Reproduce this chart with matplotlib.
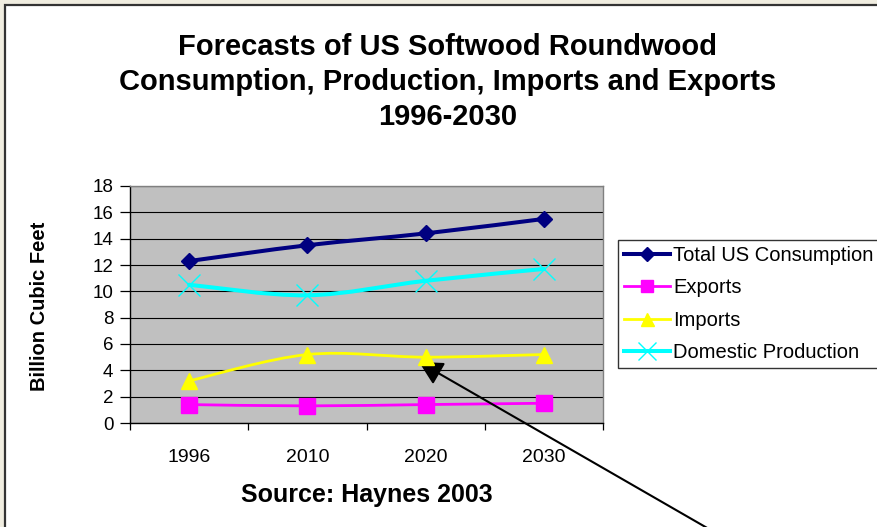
import numpy as np
import matplotlib
matplotlib.use("Agg")
import matplotlib.pyplot as plt
from matplotlib.path import Path
from matplotlib.patches import PathPatch, Rectangle
from matplotlib.lines import Line2D

plt.rcParams['font.family'] = ['Liberation Sans', 'DejaVu Sans']

# ---- data (billion cubic feet) ----
years = ['1996', '2010', '2020', '2030']
total_consumption = [12.3, 13.5, 14.4, 15.5]
exports = [1.4, 1.3, 1.4, 1.5]
imports = [3.2, 5.2, 5.0, 5.2]
domestic_production = [10.5, 9.7, 10.8, 11.7]

y_ticks = [0, 2, 4, 6, 8, 10, 12, 14, 16, 18]

series = [
    ("Total US Consumption", total_consumption, "#000080", "D", 8.5, 2.9, 1.0),
    ("Exports", exports, "#FF00FF", "s", 11.5, 2.0, 1.0),
    ("Imports", imports, "#FFFF00", "^", 12.0, 2.0, 1.0),
    ("Domestic Production", domestic_production, "#00FFFF", "x", 16.5, 2.9, 1.0),
]

W, H = 877, 527
fig = plt.figure(figsize=(W / 100, H / 100), dpi=100)
fig.patch.set_facecolor("#F0EDE0")

# white chart panel with dark frame
fig.patches.append(Rectangle((5 / W, -0.05), 1.0, 1 - 5 / H + 0.05,
                             transform=fig.transFigure, facecolor="white",
                             edgecolor="#333333", linewidth=1.6, zorder=-5))


def smooth_path(xs, ys):
    """Bezier path through the points (Catmull-Rom style tangents)."""
    pts = np.column_stack([xs, ys]).astype(float)
    n = len(pts)
    verts = [pts[0]]
    codes = [Path.MOVETO]
    for i in range(n - 1):
        p0 = pts[max(i - 1, 0)]
        p1 = pts[i]
        p2 = pts[i + 1]
        p3 = pts[min(i + 2, n - 1)]
        c1 = p1 + (p2 - p0) / 6.0
        c2 = p2 - (p3 - p1) / 6.0
        verts += [c1, c2, p2]
        codes += [Path.CURVE4] * 3
    return Path(verts, codes)


ax = fig.add_axes([130 / W, 1 - 423 / H, 473 / W, 237 / H])
ax.set_zorder(1)
ax.set_facecolor("#C0C0C0")
x = np.arange(len(years))

handles = []
for name, vals, color, marker, ms, lw, mew in series:
    ax.add_patch(PathPatch(smooth_path(x, vals), fill=False, edgecolor=color,
                           linewidth=lw, transform=ax.transData, zorder=3,
                           capstyle='round', joinstyle='round'))
    ax.plot(x, vals, linestyle='none', marker=marker, markersize=ms,
            color=color, markeredgecolor=color, markeredgewidth=mew, zorder=5)
    handles.append(Line2D([], [], color=color, linewidth=lw, marker=marker,
                          markersize=ms * 0.78, markeredgecolor=color,
                          markeredgewidth=mew))

ax.set_xlim(-0.5, len(years) - 0.5)
ax.set_ylim(0, 18)
ax.set_yticks(y_ticks)
ax.set_yticklabels([str(v) for v in y_ticks])
ax.yaxis.grid(True, color="black", linewidth=0.8, zorder=1)
ax.set_axisbelow(True)

# category boundaries carry the tick marks, centres carry the labels
ax.set_xticks(np.arange(-0.5, len(years)), minor=False)
ax.set_xticklabels([''] * (len(years) + 1))
ax.set_xticks(x, minor=True)
ax.set_xticklabels(years, minor=True)
ax.tick_params(axis='x', which='major', direction='out', length=5.2, width=0.9)
ax.tick_params(axis='x', which='minor', length=0, pad=18.5, labelsize=14)
ax.tick_params(axis='y', direction='out', length=7.5, width=0.9, pad=4.5,
               labelsize=13.5)

for side in ('left', 'bottom'):
    ax.spines[side].set_color('black')
    ax.spines[side].set_linewidth(1.0)
for side in ('top', 'right'):
    ax.spines[side].set_color('#808080')
    ax.spines[side].set_linewidth(1.0)

fig.text(40 / W, 1 - 306 / H, "Billion Cubic Feet", rotation=90,
         ha='center', va='center', fontsize=14.5, fontweight='bold')

fig.text(448 / W, 1 - 82 / H,
         "Forecasts of US Softwood Roundwood\n"
         "Consumption, Production, Imports and Exports\n"
         "1996-2030",
         ha='center', va='center', fontsize=21, fontweight='bold',
         linespacing=1.33)

fig.text(367 / W, 1 - 495 / H, "Source: Haynes 2003", ha='center',
         va='center', fontsize=18, fontweight='bold')

leg = fig.legend(handles, [s[0] for s in series], loc='upper left',
                 bbox_to_anchor=(618 / W, 1 - 240 / H), borderaxespad=0,
                 fontsize=14.5, frameon=True, fancybox=False, shadow=False,
                 handlelength=2.3, handletextpad=0.15, labelspacing=0.66,
                 borderpad=0.3)
leg.get_frame().set_edgecolor('black')
leg.get_frame().set_linewidth(1.0)
leg.set_zorder(2)

# arrow pointing at the 2020 imports value
ax.annotate('', xy=(419, H - 362), xycoords='figure pixels',
            xytext=(735, H - 544), textcoords='figure pixels',
            arrowprops=dict(arrowstyle='-|>,head_length=0.8,head_width=0.42',
                            mutation_scale=18, lw=1.5, color='black',
                            shrinkA=0, shrinkB=0),
            annotation_clip=False, zorder=4)

fig.savefig("out.png", dpi=100, facecolor=fig.get_facecolor())
